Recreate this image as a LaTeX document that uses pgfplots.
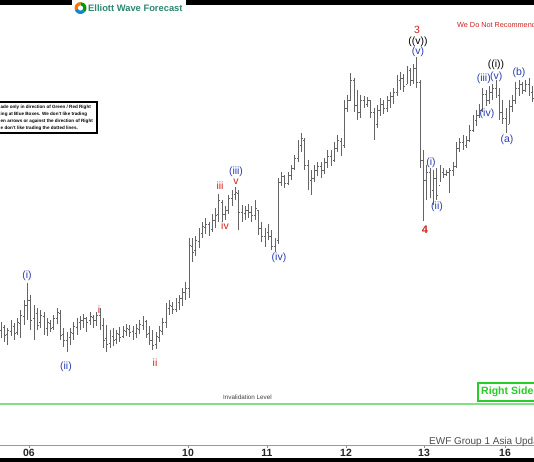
\documentclass[border=0pt]{standalone}
\usepackage{pgfplots}
\pgfplotsset{compat=1.18}
\usepackage{pgfplotstable}
\usepackage{fontspec}
\setmainfont{Liberation Sans}
\definecolor{barc}{RGB}{100,100,100}
\definecolor{wblue}{RGB}{40,60,175}
\definecolor{wred}{RGB}{205,35,30}
\definecolor{invg}{RGB}{130,225,130}
\definecolor{rsg}{RGB}{40,205,40}
\definecolor{logot}{RGB}{45,135,115}
\pgfplotstableread{
x o h l c
1.0 330 322 338 326
4.3 327 325 342 335
7.6 334 328 345 330
10.9 331 320 336 325
14.2 326 323 340 333
17.5 332 318 335 322
20.8 323 310 338 315
24.1 316 300 325 305
27.4 305 283 320 300
30.7 300 295 330 320
34.0 318 305 340 312
37.3 313 308 330 325
40.6 322 310 328 315
43.9 316 312 335 330
47.2 328 318 336 322
50.5 323 320 332 328
53.8 327 315 330 318
57.1 318 308 324 312
60.4 313 310 340 335
63.7 334 328 347 340
67.0 340 332 352 336
70.3 337 328 345 332
73.6 333 322 340 326
76.9 327 318 335 322
80.2 322 316 330 320
83.5 320 314 328 318
86.8 318 317 332 322
90.1 320 312 325 316
93.4 317 315 328 320
96.7 320 312 326 315
100.0 315 308 330 325
103.3 325 318 348 340
106.6 338 325 352 344
109.9 343 330 348 335
113.2 336 328 346 340
116.5 339 330 344 333
119.8 334 327 342 337
123.1 336 326 338 330
126.4 331 324 336 328
129.7 329 325 337 332
133.0 331 326 340 334
136.4 333 324 338 328
139.6 329 320 334 324
142.9 325 316 330 320
146.2 321 320 338 334
149.5 333 326 345 340
152.8 340 330 350 345
156.1 344 332 349 336
159.4 337 326 342 330
162.7 331 318 335 322
166.0 322 303 328 308
169.3 308 300 315 305
172.6 306 302 314 309
175.9 309 298 312 302
179.2 302 295 310 298
182.5 298 288 306 292
185.8 292 282 300 288
189.1 288 238 298 245
192.4 246 238 262 252
195.7 250 236 256 240
199.0 241 228 248 232
202.3 233 222 238 226
205.6 227 218 234 224
208.9 224 222 236 230
212.2 229 214 232 220
215.5 220 208 228 215
218.8 214 194 222 200
222.1 202 200 222 214
225.4 214 206 220 210
228.7 210 195 214 198
232.0 198 190 206 194
235.3 194 187 200 192
238.6 193 190 230 212
241.9 212 205 222 214
245.2 213 206 220 210
248.5 210 204 218 212
251.8 212 206 222 215
255.1 215 200 220 208
258.4 210 210 235 228
261.7 228 222 242 236
265.0 236 228 247 232
268.3 232 224 240 236
271.6 236 230 250 246
274.9 246 238 252 240
278.2 240 178 244 182
281.5 182 172 186 176
284.8 176 175 188 183
288.1 183 172 185 175
291.4 175 165 180 168
294.7 168 155 170 158
298.0 158 140 162 145
301.3 145 133 152 138
304.6 140 138 170 165
307.9 165 160 190 180
311.2 180 170 195 178
314.5 178 165 182 170
317.8 170 162 176 166
321.1 166 162 178 170
324.4 170 158 174 162
327.7 162 150 168 156
331.0 156 150 166 160
334.3 160 142 162 148
337.6 148 135 152 140
340.9 141 138 156 145
344.2 145 100 148 108
347.5 108 95 112 100
350.8 100 73 100 80
354.1 80 78 112 105
357.4 105 90 120 112
360.7 112 95 118 100
364.0 100 96 108 104
367.3 104 97 107 100
370.6 100 100 118 112
373.9 112 108 140 125
377.2 124 105 128 110
380.5 110 98 116 104
383.8 104 100 114 108
387.1 108 96 112 100
390.4 100 92 108 96
393.7 96 88 104 92
397.0 92 75 96 80
400.3 80 72 90 78
403.6 78 74 92 86
406.9 84 66 84 70
410.2 70 68 86 80
413.5 80 64 84 68
416.8 68 57 88 82
420.1 82 80 168 160
423.4 160 150 221 180
426.7 180 165 200 172
430.0 172 168 198 190
433.3 190 170 205 178
436.6 178 168 200 195
439.9 185 165 182 172
443.2 172 168 178 174
446.5 174 170 176 172
449.8 172 168 193 170
453.1 170 162 176 166
456.4 166 142 168 148
459.7 148 138 152 142
463.0 142 135 150 145
466.3 145 136 148 140
469.6 140 125 142 130
472.9 130 115 132 120
476.2 120 110 126 115
479.5 115 104 118 110
482.8 110 88 112 94
486.1 94 90 106 100
489.4 100 86 104 92
492.7 92 84 100 88
496.0 88 80 98 95
499.3 95 88 120 112
502.6 112 100 124 118
505.9 118 108 133 126
509.2 124 100 124 106
512.5 106 95 112 100
515.8 100 82 104 88
519.1 88 80 96 84
522.4 84 82 94 90
525.7 90 80 92 84
529.0 84 78 96 92
532.3 92 86 102 98
}\bars
\begin{document}
\begin{tikzpicture}
\path[use as bounding box] (0,0) rectangle (534bp,462bp);
\clip (0,0) rectangle (534bp,462bp);
\begin{axis}[at={(0,0)}, anchor=south west, scale only axis, width=534bp, height=462bp,
  xmin=0, xmax=534, ymin=0, ymax=462, y dir=reverse, hide axis, clip=false]
% invalidation line
\draw[invg, line width=1.1bp] (axis cs:0,404) -- (axis cs:534,404);
\node[anchor=base west, inner sep=0, text=black!75, font=\fontsize{6.3}{7}\selectfont] at (axis cs:223,399.5) {Invalidation Level};
% bars
\addplot[draw=none, no markers, forget plot, error bars/.cd, y dir=plus, y explicit, error mark=none,
  error bar style={draw=barc, solid, line width=0.7bp}]
  table[x=x, y=h, y error expr=\thisrow{l}-\thisrow{h}] {\bars};
\addplot[draw=none, no markers, forget plot, error bars/.cd, x dir=minus, x fixed=1.4, error mark=none,
  error bar style={draw=barc, solid, line width=0.7bp}]
  table[x=x, y=o] {\bars};
\addplot[draw=none, no markers, forget plot, error bars/.cd, x dir=plus, x fixed=1.4, error mark=none,
  error bar style={draw=barc, solid, line width=0.7bp}]
  table[x=x, y=c] {\bars};
% top band and logo
\fill[black] (axis cs:0,0) rectangle (axis cs:534,5);
\fill[white] (axis cs:72,0) rectangle (axis cs:186,15.5);
\fill[orange!90!red] (axis cs:80.5,8) -- ++(90:6bp) arc (90:200:6bp) -- cycle;
\fill[cyan!70!blue] (axis cs:80.5,8) -- ++(200:6bp) arc (200:320:6bp) -- cycle;
\fill[green!60!black] (axis cs:80.5,8) -- ++(320:6bp) arc (320:450:6bp) -- cycle;
\fill[white] (axis cs:80.5,8) circle (2.6bp);
\node[anchor=west, inner sep=0, text=logot, font=\fontsize{9.4}{11}\selectfont\bfseries] at (axis cs:88,8.5) {Elliott Wave Forecast};
% bottom axis
\draw[black!40, line width=0.8bp] (axis cs:0,445.5) -- (axis cs:534,445.5);
\tikzset{tk/.style={black!45, line width=0.7bp}, tl/.style={text=black!85, font=\fontsize{10.5}{12}\selectfont\bfseries, inner sep=0}}
\draw[tk] (axis cs:29,445.5) -- (axis cs:29,448);
\draw[tk] (axis cs:188,445.5) -- (axis cs:188,448);
\draw[tk] (axis cs:267,445.5) -- (axis cs:267,448);
\draw[tk] (axis cs:346,445.5) -- (axis cs:346,448);
\draw[tk] (axis cs:424,445.5) -- (axis cs:424,448);
\draw[tk] (axis cs:505,445.5) -- (axis cs:505,448);
\node[tl] at (axis cs:29,453) {06};
\node[tl] at (axis cs:188,453) {10};
\node[tl] at (axis cs:267,453) {11};
\node[tl] at (axis cs:346,453) {12};
\node[tl] at (axis cs:424,453) {13};
\node[tl] at (axis cs:505,453) {16};
\fill[black] (axis cs:0,458) rectangle (axis cs:534,462);
\node[anchor=base west, inner sep=0, text=black!70, font=\fontsize{10}{12}\selectfont] at (axis cs:429,444.5) {EWF Group 1 Asia Update};
% right side box
\draw[rsg, line width=1.6bp, fill=white] (axis cs:478,383) rectangle (axis cs:545,401);
\node[anchor=west, inner sep=0, text=rsg, font=\fontsize{10.6}{12}\selectfont\bfseries] at (axis cs:481,392) {Right Side};
% recommend text
\node[anchor=base west, inner sep=0, text=wred, font=\fontsize{7.3}{9}\selectfont] at (axis cs:457,27.5) {We Do Not Recommend};
% disclaimer box
\draw[black, line width=1.2bp, fill=white] (axis cs:-5,102) rectangle (axis cs:97,133);
\node[anchor=west, inner sep=0, font=\fontsize{4.6}{5}\selectfont\bfseries] at (axis cs:0.5,107) {ade only in direction of Green / Red Right};
\node[anchor=west, inner sep=0, font=\fontsize{4.6}{5}\selectfont\bfseries] at (axis cs:0.5,114) {ing at Blue Boxes. We don't like trading};
\node[anchor=west, inner sep=0, font=\fontsize{4.6}{5}\selectfont\bfseries] at (axis cs:0.5,121) {en arrows or against the direction of Right};
\node[anchor=west, inner sep=0, font=\fontsize{4.6}{5}\selectfont\bfseries] at (axis cs:0.5,128) {e don't like trading the dotted lines.};
% wave labels
\tikzset{lb/.style={inner sep=0, font=\fontsize{10.5}{12}\selectfont}}
\node[lb, text=wblue] at (axis cs:27,276) {(i)};
\node[lb, text=wblue] at (axis cs:66,367) {(ii)};
\node[lb, text=wred] at (axis cs:99,310) {i};
\node[lb, text=wred] at (axis cs:155,363) {ii};
\node[lb, text=wred] at (axis cs:220,186) {iii};
\node[lb, text=wred] at (axis cs:225,226) {iv};
\node[lb, text=wred] at (axis cs:236,182) {v};
\node[lb, text=wblue] at (axis cs:236,172) {(iii)};
\node[lb, text=wblue] at (axis cs:279,258) {(iv)};
\node[lb, text=wred] at (axis cs:417,30) {3};
\node[lb, text=black] at (axis cs:418,42) {((v))};
\node[lb, text=wblue] at (axis cs:418,52) {(v)};
\node[lb, text=wred, font=\fontsize{11}{12}\selectfont\bfseries] at (axis cs:425,230) {4};
\node[lb, text=wblue] at (axis cs:431,163) {(i)};
\node[lb, text=wblue] at (axis cs:437,207) {(ii)};
\node[lb, text=black] at (axis cs:496,65) {((i))};
\node[lb, text=wblue, anchor=east] at (axis cs:491,79) {(iii)};
\node[lb, text=wblue, anchor=west] at (axis cs:490,77) {(v)};
\node[lb, text=wblue] at (axis cs:487,114) {(iv)};
\node[lb, text=wblue] at (axis cs:507,140) {(a)};
\node[lb, text=wblue] at (axis cs:519,73) {(b)};
\end{axis}
\end{tikzpicture}
\end{document}
